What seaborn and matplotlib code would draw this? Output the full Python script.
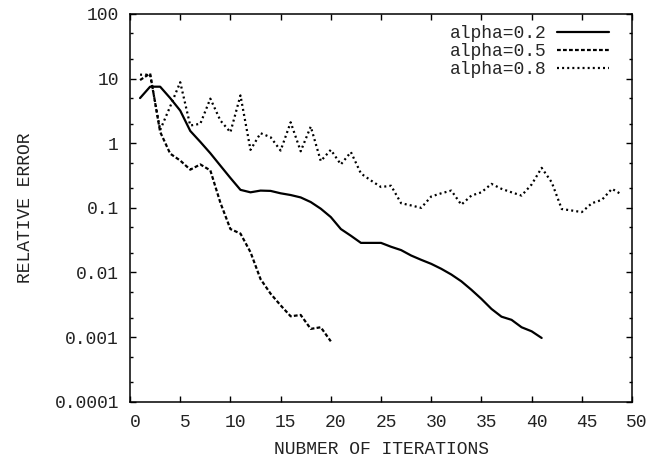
import numpy as np
import pandas as pd
import seaborn as sns
import matplotlib.pyplot as plt
import matplotlib.transforms as mtrans
from matplotlib.ticker import LogLocator, FixedLocator, FixedFormatter, NullFormatter

# values (relative error per iteration)
iters_02 = list(range(1, 42))
err_02 = [5.0, 7.5, 7.5, 5.0, 3.2, 1.55, 1.05, 0.70, 0.45, 0.29,
          0.19, 0.174, 0.185, 0.183, 0.168, 0.158, 0.145, 0.123, 0.097, 0.072,
          0.047, 0.037, 0.0287, 0.0287, 0.0287, 0.025, 0.0222, 0.0183, 0.0157, 0.0136,
          0.0114, 0.0093, 0.0073, 0.0054, 0.0039, 0.00273, 0.00207, 0.00185, 0.00142, 0.00123,
          0.00097]

iters_05 = list(range(1, 21))
err_05 = [9.5, 12.0, 1.5, 0.69, 0.54, 0.39, 0.47, 0.38, 0.12, 0.047,
          0.040, 0.0206, 0.0079, 0.0047, 0.0031, 0.0021, 0.0022, 0.00134, 0.00142, 0.00086]

iters_08 = list(range(1, 50))
err_08 = [11.5, 11.5, 1.6, 3.7, 8.8, 1.88, 2.0, 4.9, 2.25, 1.48,
          5.5, 0.79, 1.43, 1.24, 0.77, 2.11, 0.75, 1.81, 0.53, 0.79,
          0.47, 0.73, 0.34, 0.265, 0.21, 0.22, 0.118, 0.109, 0.1, 0.15,
          0.168, 0.185, 0.112, 0.155, 0.174, 0.235, 0.197, 0.174, 0.155, 0.23,
          0.416, 0.249, 0.096, 0.091, 0.086, 0.118, 0.133, 0.197, 0.16]

series_labels = ['alpha=0.2', 'alpha=0.5', 'alpha=0.8']
x_ticks = [0, 5, 10, 15, 20, 25, 30, 35, 40, 45, 50]
y_ticks = [0.0001, 0.001, 0.01, 0.1, 1, 10, 100]
y_tick_labels = ['0.0001', '0.001', '0.01', '0.1', '1', '10', '100']

sns.set_style('ticks')
plt.rcParams['font.family'] = ['Liberation Mono', 'DejaVu Sans Mono']
fs = 13

fig = plt.figure(figsize=(6.6, 4.59), dpi=100)
ax = fig.add_axes([0.197, 0.1248, 0.7606, 0.8447])

styles = ['-', (0, (1.7, 1.0)), (0, (0.9, 1.4))]
data = [(iters_02, err_02), (iters_05, err_05), (iters_08, err_08)]
for (xs, ys), lab, ls in zip(data, series_labels, styles):
    df = pd.DataFrame({'iter': xs, 'err': ys})
    sns.lineplot(data=df, x='iter', y='err', ax=ax, color='black',
                 linestyle=ls, linewidth=1.6, label=lab)

ax.set_yscale('log')
ax.set_xlim(0, 50)
ax.set_ylim(0.0001, 100)

ax.xaxis.set_major_locator(FixedLocator(x_ticks))
ax.yaxis.set_major_locator(FixedLocator(y_ticks))
ax.yaxis.set_major_formatter(FixedFormatter(y_tick_labels))
ax.yaxis.set_minor_locator(LogLocator(base=10, subs=(2, 5), numticks=20))
ax.yaxis.set_minor_formatter(NullFormatter())

ax.tick_params(which='both', direction='in', top=True, right=True,
               color='black', labelcolor='#222222', labelsize=fs)
ax.tick_params(which='major', length=4.5, width=1.0)
ax.tick_params(which='minor', length=2.5, width=1.0)
ax.tick_params(axis='x', pad=9)
ax.tick_params(axis='y', pad=8)

for sp in ax.spines.values():
    sp.set_linewidth(1.1)
    sp.set_color('black')

# gnuplot draws x labels a few pixels right of their ticks
shift = mtrans.ScaledTranslation(5 / 100, 0, fig.dpi_scale_trans)
for lab in ax.get_xticklabels():
    lab.set_transform(lab.get_transform() + shift)

ax.set_xlabel('NUBMER OF ITERATIONS', fontsize=fs, color='#222222', labelpad=7)
ax.set_ylabel('RELATIVE ERROR', fontsize=fs, color='#222222', labelpad=15)

ax.legend(loc='upper right', bbox_to_anchor=(0.955, 0.972), frameon=False,
          markerfirst=False, handlelength=2.9, handletextpad=0.6,
          labelspacing=0.07, borderpad=0, borderaxespad=0, fontsize=fs)

fig.savefig('out.png', dpi=100)
